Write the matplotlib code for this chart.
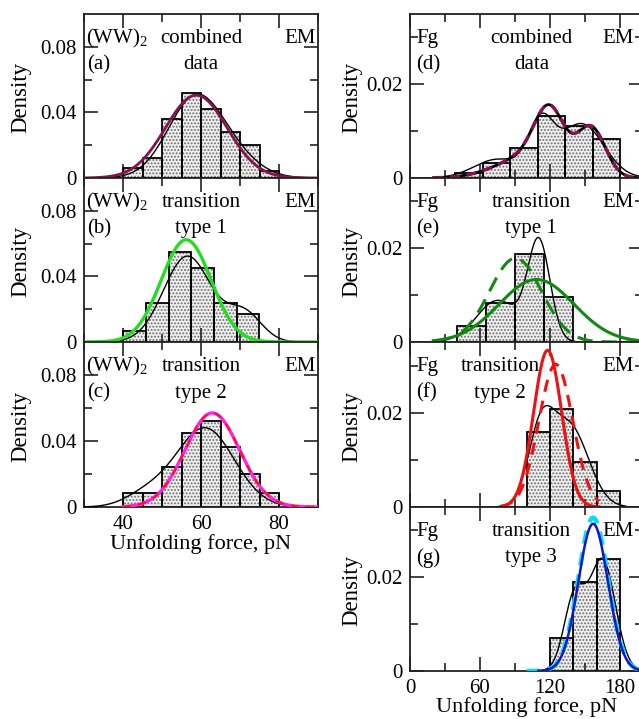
import numpy as np
import matplotlib
matplotlib.use("Agg")
import matplotlib.pyplot as plt
from matplotlib.ticker import FixedLocator, FuncFormatter

plt.rcParams['font.family'] = ['Liberation Serif', 'DejaVu Serif']
plt.rcParams['mathtext.fontset'] = 'custom'
plt.rcParams['mathtext.rm'] = 'Liberation Serif'
plt.rcParams['font.size'] = 15
plt.rcParams['hatch.linewidth'] = 0.9

# ---- histogramme (densité) ----
edges_a = [40, 45, 50, 55, 60, 65, 70, 75, 80]
dens_a = [0.006, 0.012, 0.036, 0.052, 0.042, 0.028, 0.020, 0.004]
edges_b = [40, 45.83, 51.67, 57.5, 63.33, 69.17, 75]
dens_b = [0.0065, 0.024, 0.055, 0.045, 0.024, 0.017]
edges_c = [40, 45, 50, 55, 60, 65, 70, 75, 80]
dens_c = [0.0086, 0.0086, 0.0243, 0.0447, 0.0524, 0.0365, 0.0202, 0.0086]

edges_d = [39, 62.5, 86, 109.5, 133, 156.5, 180]
dens_d = [0.0011, 0.0033, 0.0065, 0.0133, 0.011, 0.0083]
edges_e = [40, 65, 90, 115, 140]
dens_e = [0.0035, 0.0083, 0.0187, 0.0095]
edges_f = [100, 120, 140, 160, 180]
dens_f = [0.0159, 0.0208, 0.0096, 0.0033]
edges_g = [120, 140, 160, 180]
dens_g = [0.0071, 0.0189, 0.024]

# ---- courbes: composantes gaussiennes (poids, moyenne, sigma) ----
fit_a = [(1.0, 58.8, 7.9)]
kde_a = [(0.85, 58.5, 7.0), (0.15, 69, 6.5)]
fit_b = [(1.0, 56.2, 6.4)]
kde_b = [(0.8, 56.5, 6.1), (0.2, 71, 4.5)]
fit_c = [(1.0, 62.9, 7.0)]
kde_c = [(0.9, 61, 7.5), (0.1, 46, 5.5)]

fit_d = [(0.35, 105, 28), (0.35, 119.5, 12.5), (0.3, 155.5, 12)]
kde_d = [(0.2, 75, 20), (0.3, 112, 11), (0.55, 147, 19)]
fit_e_solid = [(1.07, 108.5, 32)]
fit_e_dash = [(1.0, 90.5, 22.3)]
kde_e = [(0.4, 75, 18), (0.5, 110.5, 9.5)]
fit_f_solid = [(1.0, 118, 12)]
fit_f_dash = [(1.1, 125, 14.5)]
kde_f = [(0.42, 112, 11), (0.68, 137, 16)]
fit_g_blue = [(1.0, 157, 12.7)]
fit_g_cyan = [(1.05, 157, 12.8)]
kde_g = [(0.35, 141, 9), (0.65, 165, 11)]


def mix(x, comps):
    y = np.zeros_like(x)
    for w, m, s in comps:
        y += w * np.exp(-0.5 * ((x - m) / s) ** 2) / (s * np.sqrt(2 * np.pi))
    return y


def curve(ax, comps, x0, x1, **kw):
    x = np.linspace(x0, x1, 400)
    ax.plot(x, mix(x, comps), **kw)


def hist(ax, edges, dens):
    edges = np.asarray(edges)
    w = np.diff(edges)
    ax.bar(edges[:-1], dens, width=w, align='edge', facecolor='#efefef',
           edgecolor='#6a6a6a', hatch='.....', linewidth=0, zorder=1)
    ax.bar(edges[:-1], dens, width=w, align='edge', facecolor='none',
           edgecolor='black', linewidth=1.3, zorder=2)


def style(ax, xlim, ylim, xmaj, xmin, ymaj, ymin, labels_x):
    ax.set_xlim(*xlim)
    ax.set_ylim(*ylim)
    ax.xaxis.set_major_locator(FixedLocator(xmaj))
    ax.xaxis.set_minor_locator(FixedLocator(xmin))
    ax.yaxis.set_major_locator(FixedLocator(ymaj))
    ax.yaxis.set_minor_locator(FixedLocator(ymin))
    ax.yaxis.set_major_formatter(FuncFormatter(lambda v, _: '0' if v == 0 else f'{v:g}'))
    ax.tick_params(which='both', direction='in', top=True, right=True, width=1.2, color='#222222')
    ax.tick_params(which='major', length=10)
    ax.tick_params(which='minor', length=5.5)
    ax.tick_params(axis='y', pad=5)
    ax.tick_params(axis='x', pad=6)
    if not labels_x:
        ax.tick_params(labelbottom=False)
    for s in ax.spines.values():
        s.set_linewidth(1.3)
        s.set_color('#222222')
    ax.set_ylabel('Density', fontsize=16.5)


W, H = 639, 719
fig = plt.figure(figsize=(6.39, 7.19), dpi=100)


def add_ax(left, top, bottom, width):
    return fig.add_axes([left / W, 1 - bottom / H, width / W, (bottom - top) / H])


ax_a = add_ax(84, 14, 178, 234)
ax_b = add_ax(84, 178, 342, 234)
ax_c = add_ax(84, 342, 507, 234)
ax_d = add_ax(410, 14, 178, 233.3)
ax_e = add_ax(410, 178, 342, 233.3)
ax_f = add_ax(410, 342, 507, 233.3)
ax_g = add_ax(410, 507, 671, 233.3)

lmaj, lmin = [40, 60, 80], [30, 50, 70, 90]
rmaj, rmin = [0, 60, 120, 180], [30, 90, 150]

for ax in (ax_a, ax_b, ax_c):
    style(ax, (30, 90), (0, 0.1), lmaj, lmin, [0, 0.04, 0.08], [0.02, 0.06], ax is ax_c)
    ax.yaxis.set_label_coords(-0.225, 0.49)
for ax in (ax_d, ax_e, ax_f, ax_g):
    style(ax, (0, 200), (0, 0.035), rmaj, rmin, [0, 0.02], [0.01, 0.03], ax is ax_g)
    ax.yaxis.set_label_coords(-0.205, 0.49)

# (a)
hist(ax_a, edges_a, dens_a)
curve(ax_a, kde_a, 30, 90, color='black', lw=1.0, zorder=3)
curve(ax_a, fit_a, 30, 90, color='#86134f', lw=2.0, zorder=4)
# (b)
hist(ax_b, edges_b, dens_b)
curve(ax_b, kde_b, 30, 90, color='black', lw=1.0, zorder=3)
curve(ax_b, fit_b, 30, 90, color='#22dd22', lw=2.4, zorder=4)
# (c)
hist(ax_c, edges_c, dens_c)
curve(ax_c, kde_c, 30, 90, color='black', lw=1.0, zorder=3)
curve(ax_c, fit_c, 40, 90, color='#ff22ee', lw=2.4, zorder=4)
curve(ax_c, fit_c, 40, 90, color='#ff1111', lw=1.4, ls=(0, (4, 4)), zorder=5)

# (d)
hist(ax_d, edges_d, dens_d)
curve(ax_d, kde_d, 20, 200, color='black', lw=1.0, zorder=3)
curve(ax_d, fit_d, 20, 200, color='black', lw=2.0, zorder=4)
curve(ax_d, fit_d, 20, 200, color='#86134f', lw=2.4, ls=(0, (3, 2)), zorder=5)
# (e)
hist(ax_e, edges_e, dens_e)
curve(ax_e, kde_e, 20, 200, color='black', lw=1.0, zorder=3)
curve(ax_e, fit_e_solid, 20, 200, color='#118811', lw=2.2, zorder=4)
curve(ax_e, fit_e_dash, 45, 200, color='#118811', lw=2.2, ls=(0, (5, 3)), zorder=4)
# (f)
hist(ax_f, edges_f, dens_f)
curve(ax_f, kde_f, 75, 185, color='black', lw=1.0, zorder=3)
curve(ax_f, fit_f_solid, 78, 162, color='#ee1111', lw=2.2, zorder=4)
curve(ax_f, fit_f_dash, 78, 162, color='#ee1111', lw=2.2, ls=(0, (4, 3)), zorder=4)
# (g)
hist(ax_g, edges_g, dens_g)
curve(ax_g, kde_g, 110, 195, color='black', lw=1.0, zorder=3)
curve(ax_g, fit_g_cyan, 100, 200, color='#00e0f0', lw=3.2, ls=(0, (3, 2)), zorder=4)
curve(ax_g, fit_g_blue, 110, 200, color='#1414c8', lw=1.8, zorder=5)

# annotations
left_tags = [(ax_a, '(a)', 'combined', 'data'),
             (ax_b, '(b)', 'transition', 'type 1'),
             (ax_c, '(c)', 'transition', 'type 2')]
for ax, tag, l1, l2 in left_tags:
    ax.text(0.01, 0.85, '(WW)$_2$', transform=ax.transAxes, ha='left', va='center')
    ax.text(0.013, 0.69, tag, transform=ax.transAxes, ha='left', va='center')
    ax.text(0.5, 0.85, l1, transform=ax.transAxes, ha='center', va='center')
    ax.text(0.5, 0.69, l2, transform=ax.transAxes, ha='center', va='center')
    ax.text(0.99, 0.85, 'EM', transform=ax.transAxes, ha='right', va='center')

right_tags = [(ax_d, '(d)', 'combined', 'data', 0.52),
              (ax_e, '(e)', 'transition', 'type 1', 0.52),
              (ax_f, '(f)', 'transition', 'type 2', 0.385),
              (ax_g, '(g)', 'transition', 'type 3', 0.52)]
for ax, tag, l1, l2, xc in right_tags:
    ax.text(0.028, 0.85, 'Fg', transform=ax.transAxes, ha='left', va='center')
    ax.text(0.025, 0.69, tag, transform=ax.transAxes, ha='left', va='center')
    ax.text(xc, 0.85, l1, transform=ax.transAxes, ha='center', va='center')
    ax.text(xc, 0.69, l2, transform=ax.transAxes, ha='center', va='center')
    ax.text(0.957, 0.85, 'EM', transform=ax.transAxes, ha='right', va='center')

ax_c.set_xlabel('Unfolding force, pN', fontsize=16)
ax_c.xaxis.set_label_coords(0.5, -0.165)
ax_g.set_xlabel('Unfolding force, pN', fontsize=16)
ax_g.xaxis.set_label_coords(0.5, -0.16)

fig.savefig('out.png', dpi=100)
